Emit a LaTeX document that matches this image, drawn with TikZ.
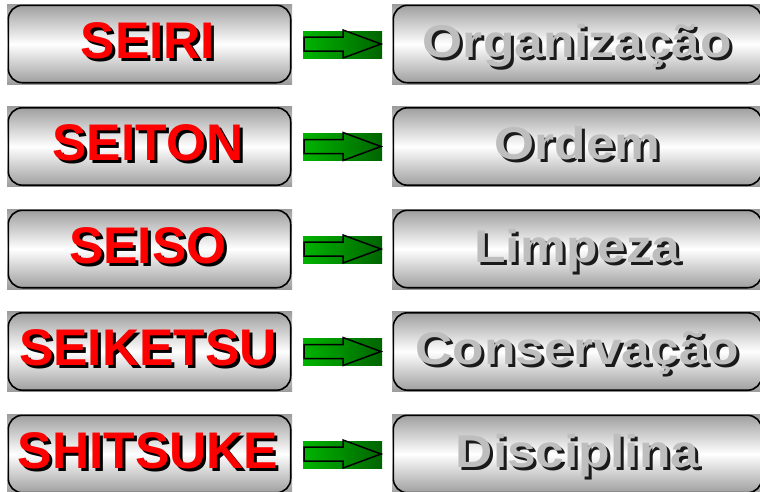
\documentclass[tikz,border=0pt]{standalone}
\usepackage{fontspec}
\setmainfont{Liberation Sans}
\newfontfamily\largo{Liberation Sans}[FakeStretch=1.12]
\usetikzlibrary{calc}
\definecolor{cinza}{HTML}{9C9C9C}
\definecolor{prata}{HTML}{BEBEBE}
\definecolor{escuro}{HTML}{1A1A1A}
\definecolor{verdeA}{HTML}{00B400}
\definecolor{verdeB}{HTML}{006400}
% texto com sombra deslocada
\newcommand\comsombra[2]{\makebox[0pt][l]{\kern3pt\raisebox{-3pt}{\color{#1}#2}}#2}
\tikzset{
  fundo/.style={shade,top color=cinza,bottom color=cinza,middle color=white,
    inner sep=0pt,minimum height=80pt},
  borda/.style={draw=black,line width=1.6pt,rounded corners=14pt},
  senso/.style={font=\fontsize{51.5}{52}\selectfont\bfseries,anchor=base,inner sep=0pt},
  sentido/.style={font=\largo\fontsize{46}{46}\selectfont\bfseries,anchor=base,inner sep=0pt},
  seta/.style={draw=black,line width=1.5pt,line join=miter}
}
\begin{document}
\begin{tikzpicture}[x=1pt,y=-1pt]
\useasboundingbox (0,0) rectangle (760,491);
\foreach \c/\jap/\port [count=\i] in {44/SEIRI/Organização,146.5/SEITON/Ordem,249/SEISO/Limpeza,351.5/SEIKETSU/Conservação,454/SHITSUKE/Disciplina}{
% caixa da esquerda
\node[fundo,minimum width=285pt] (e\i) at (149.5,\c) {};
\draw[borda] ($(e\i.north west)+(1.5,1.5)$) rectangle ($(e\i.south east)+(-1.5,-1.5)$);
\node[senso,text=red] (te\i) at ($(e\i)+(-1.5,14)$) {\comsombra{black}{\jap}};
% caixa da direita
\node[fundo,minimum width=371pt] (d\i) at (577.5,\c) {};
\draw[borda] ($(d\i.north west)+(1.5,1.5)$) rectangle ($(d\i.south east)+(-1.5,-1.5)$);
\node[sentido,text=prata] (td\i) at ($(d\i)+(0,13)$) {\comsombra{escuro}{\port}};
% seta
\shade[left color=verdeA,right color=verdeB] (303,\c-13) rectangle (382,\c+14);
\draw[seta] (304,\c-7) -- (343,\c-7) -- (343,\c-14) -- (381,\c) -- (343,\c+14)
  -- (343,\c+7) -- (304,\c+7) -- cycle;
}
\end{tikzpicture}
\end{document}
